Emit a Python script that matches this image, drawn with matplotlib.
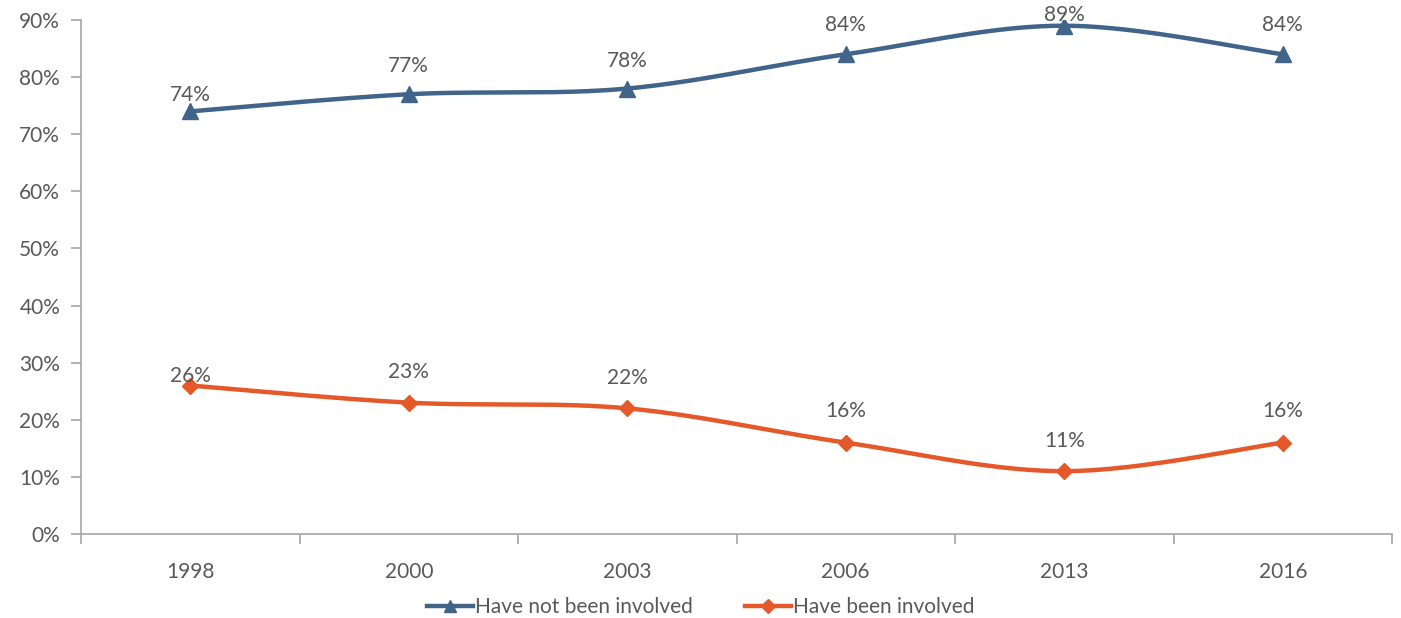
import numpy as np
import matplotlib
matplotlib.use("Agg")
import matplotlib.pyplot as plt
from matplotlib.ticker import PercentFormatter

years = ["1998", "2000", "2003", "2006", "2013", "2016"]
not_involved = [74, 77, 78, 84, 89, 84]
involved = [26, 23, 22, 16, 11, 16]
label_not = "Have not been involved"
label_inv = "Have been involved"

blue = "#41648A"
orange = "#E5582A"
text_c = "#595959"
axis_c = "#A6A6A6"

plt.rcParams['font.family'] = ['Lato', 'DejaVu Sans']

def smooth(xs, ys, n=40):
    # Catmull-Rom spline through points (Excel-like smoothed line)
    xs = np.asarray(xs, float); ys = np.asarray(ys, float)
    px = np.concatenate([[xs[0]], xs, [xs[-1]]])
    py = np.concatenate([[ys[0]], ys, [ys[-1]]])
    outx, outy = [], []
    for i in range(1, len(px) - 2):
        p0x, p1x, p2x, p3x = px[i-1], px[i], px[i+1], px[i+2]
        p0y, p1y, p2y, p3y = py[i-1], py[i], py[i+1], py[i+2]
        c1x = p1x + (p2x - p0x) / 6; c1y = p1y + (p2y - p0y) / 6
        c2x = p2x - (p3x - p1x) / 6; c2y = p2y - (p3y - p1y) / 6
        t = np.linspace(0, 1, n)
        bx = (1-t)**3*p1x + 3*(1-t)**2*t*c1x + 3*(1-t)*t**2*c2x + t**3*p2x
        by = (1-t)**3*p1y + 3*(1-t)**2*t*c1y + 3*(1-t)*t**2*c2y + t**3*p2y
        outx.extend(bx); outy.extend(by)
    return np.array(outx), np.array(outy)

fig = plt.figure(figsize=(14.01, 6.18), dpi=100)
ax = fig.add_axes([81/1401, 84/618, (1392-81)/1401, (534-20)/618])

x = np.arange(len(years))
for vals, col, mk, ms, lab in [(not_involved, blue, '^', 11, label_not),
                               (involved, orange, 'D', 8.5, label_inv)]:
    sx, sy = smooth(x, vals)
    ax.plot(sx, sy, color=col, lw=3.2, solid_capstyle='round', zorder=3)
    ax.plot(x, vals, linestyle='none', marker=mk, ms=ms, color=col, zorder=4)
    ax.plot([], [], color=col, lw=3.2, marker=mk, ms=ms * 0.85, label=lab)

offs_not = [16, 28, 28, 29, 11, 29]
offs_inv = [10, 31, 30, 32, 30, 32]
for xi, v, o in zip(x, not_involved, offs_not):
    ax.annotate(f"{v}%", (xi, v), xytext=(0, o), textcoords='offset pixels',
                ha='center', va='center', fontsize=15, color=text_c, zorder=5)
for xi, v, o in zip(x, involved, offs_inv):
    ax.annotate(f"{v}%", (xi, v), xytext=(0, o), textcoords='offset pixels',
                ha='center', va='center', fontsize=15, color=text_c, zorder=5)

ax.set_xlim(-0.5, len(years) - 0.5)
ax.set_ylim(0, 90)
ax.set_yticks(np.arange(0, 91, 10))
ax.yaxis.set_major_formatter(PercentFormatter(decimals=0))
ax.set_xticks(x)
ax.set_xticklabels(years)
ax.set_xticks(np.arange(-0.5, len(years)), minor=True)
ax.tick_params(axis='x', which='major', length=0, pad=20, labelsize=15, labelcolor=text_c)
ax.tick_params(axis='x', which='minor', length=7, color=axis_c, width=1.2)
ax.tick_params(axis='y', length=7, color=axis_c, width=1.2, pad=8, labelsize=15, labelcolor=text_c)
for s in ['top', 'right']:
    ax.spines[s].set_visible(False)
for s in ['left', 'bottom']:
    ax.spines[s].set_color(axis_c)
    ax.spines[s].set_linewidth(1.2)

leg = fig.legend(loc='center', bbox_to_anchor=(0.5, 1 - 607/618), ncol=2, frameon=False,
                 fontsize=15, handlelength=2.2, handletextpad=0.1, columnspacing=2.5,
                 labelcolor=text_c)

fig.savefig("out.png", dpi=100)
